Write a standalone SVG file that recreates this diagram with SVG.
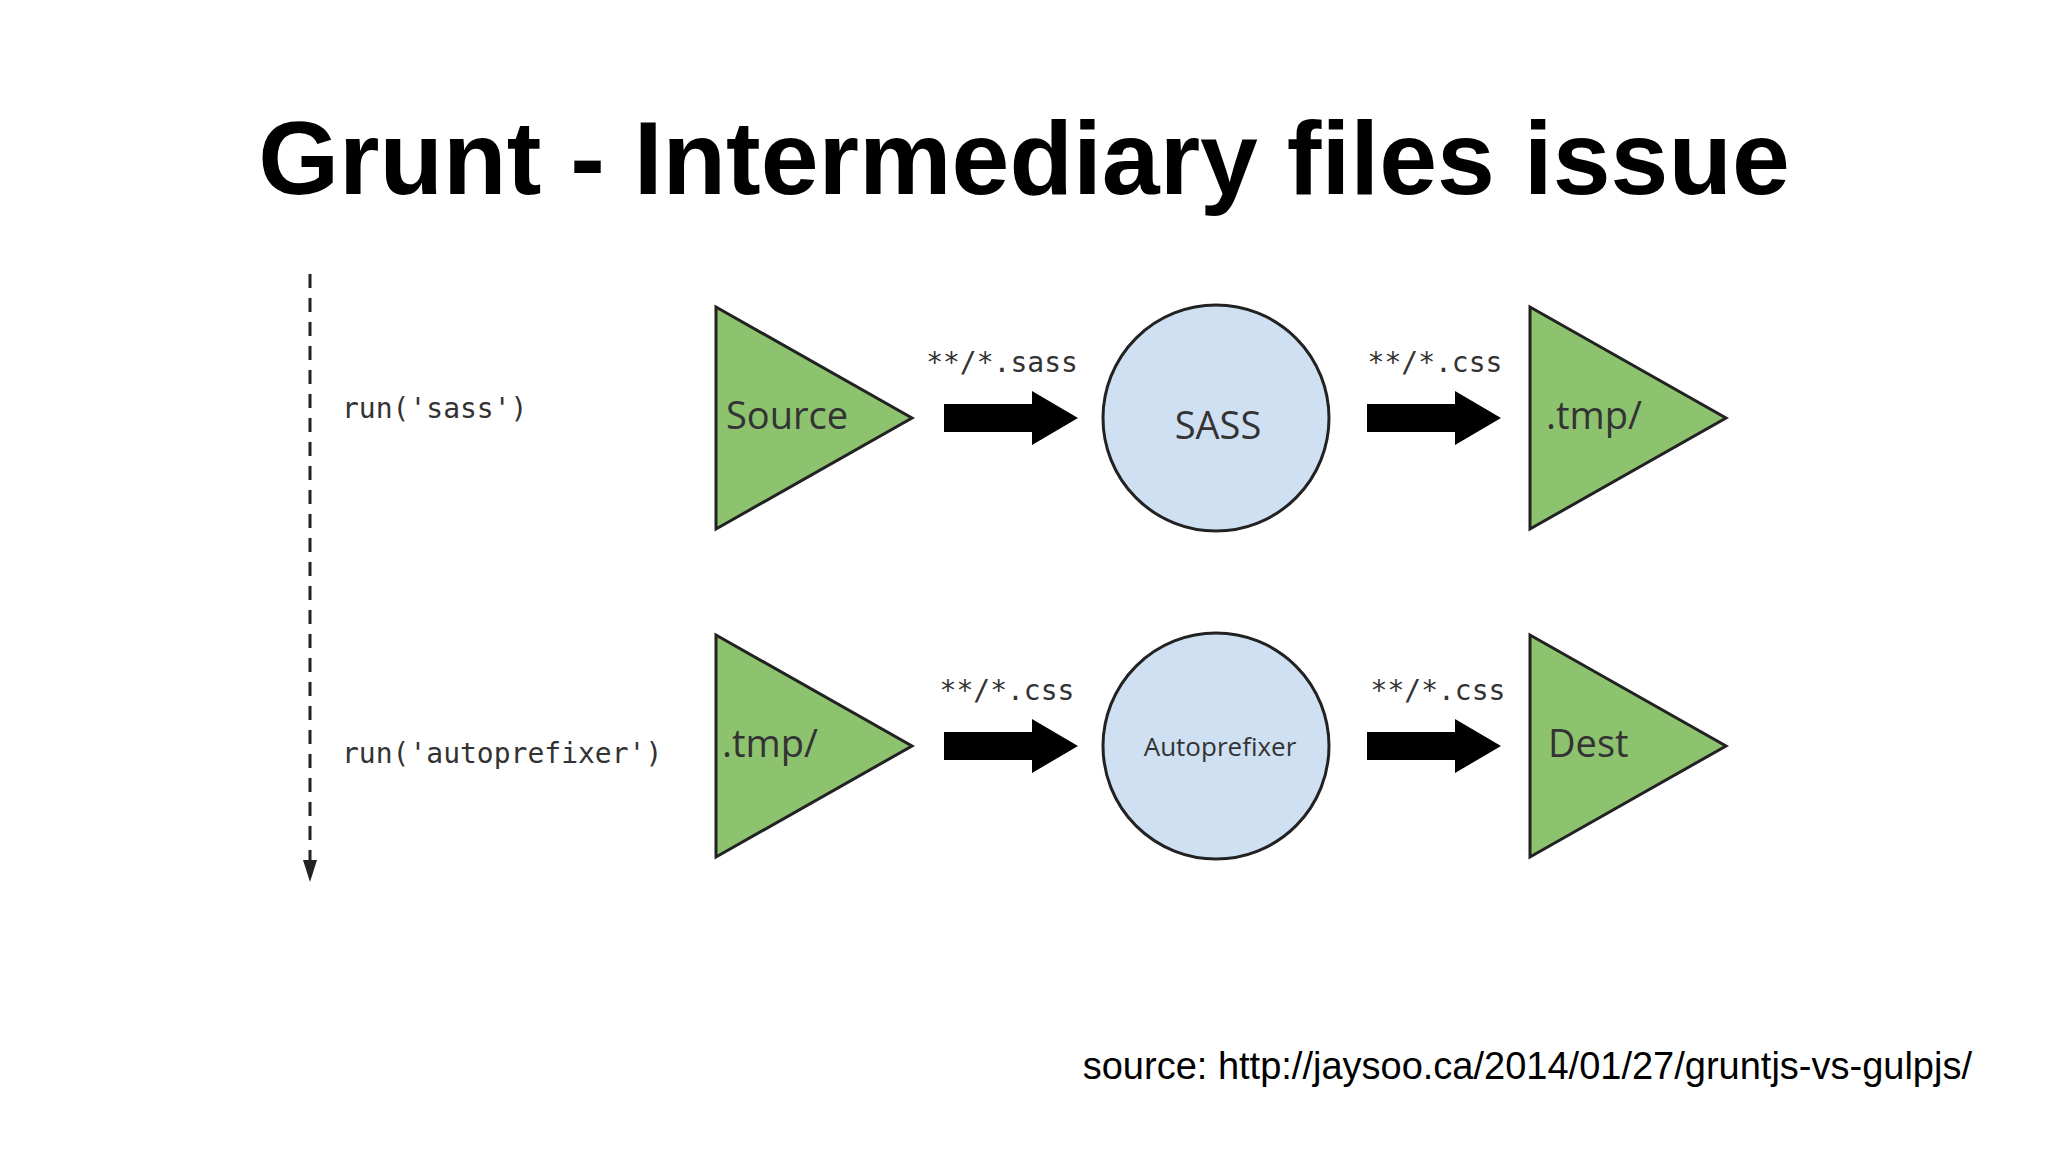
<svg xmlns="http://www.w3.org/2000/svg" width="2048" height="1152" viewBox="0 0 2048 1152">
<style>
.tri{fill:#8dc26f;stroke:#222;stroke-width:3}
.cir{fill:#cfe0f2;stroke:#222;stroke-width:3}
.lbl{font-family:"Open Sans","DejaVu Sans",sans-serif;fill:#333}
.mono{font-family:"DejaVu Sans Mono","Liberation Mono",monospace;font-size:28px;fill:#333}
.arr{fill:#000}
</style>
<defs>
<path id="ar" d="M0,-14 H88 V-27 L134,0 L88,27 V14 H0 Z"/>
</defs>
<rect width="2048" height="1152" fill="#fff"/>
<text x="1024" y="194" text-anchor="middle" font-family="Liberation Sans,Arial,sans-serif" font-weight="bold" font-size="104">Grunt - Intermediary files issue</text>
<g id="timeline">
<line x1="310" y1="274" x2="310" y2="866" stroke="#222" stroke-width="3" stroke-dasharray="14,10"/>
<path d="M303,860 L317,860 L310,882 Z" fill="#222"/>
<text class="mono" x="342" y="418">run('sass')</text>
<text class="mono" x="342" y="763">run('autoprefixer')</text>
</g>
<g id="source"><polygon class="tri" points="716,307 716,529 912,418"/><text class="lbl" x="726" y="429" font-size="38">Source</text></g>
<g id="sass"><circle class="cir" cx="1216" cy="418" r="113"/><text class="lbl" x="1218" y="439" font-size="38" text-anchor="middle">SASS</text></g>
<g id="tmp1"><polygon class="tri" points="1530,307 1530,529 1726,418"/><text class="lbl" x="1546" y="429" font-size="38">.tmp/</text></g>
<g id="tmp2"><polygon class="tri" points="716,635 716,857 912,746"/><text class="lbl" x="722" y="757" font-size="38">.tmp/</text></g>
<g id="autoprefixer"><circle class="cir" cx="1216" cy="746" r="113"/><text class="lbl" x="1220" y="756" font-size="26" text-anchor="middle">Autoprefixer</text></g>
<g id="dest"><polygon class="tri" points="1530,635 1530,857 1726,746"/><text class="lbl" x="1548" y="757" font-size="38">Dest</text></g>
<g id="connectors">
<use href="#ar" x="944" y="418" class="arr"/>
<use href="#ar" x="1367" y="418" class="arr"/>
<use href="#ar" x="944" y="746" class="arr"/>
<use href="#ar" x="1367" y="746" class="arr"/>
<text class="mono" x="1002" y="372" text-anchor="middle">**/*.sass</text>
<text class="mono" x="1435" y="372" text-anchor="middle">**/*.css</text>
<text class="mono" x="1007" y="700" text-anchor="middle">**/*.css</text>
<text class="mono" x="1438" y="700" text-anchor="middle">**/*.css</text>
</g>
<text x="1972" y="1079" text-anchor="end" font-family="Liberation Sans,Arial,sans-serif" font-size="38">source: http://jaysoo.ca/2014/01/27/gruntjs-vs-gulpjs/</text>
</svg>
